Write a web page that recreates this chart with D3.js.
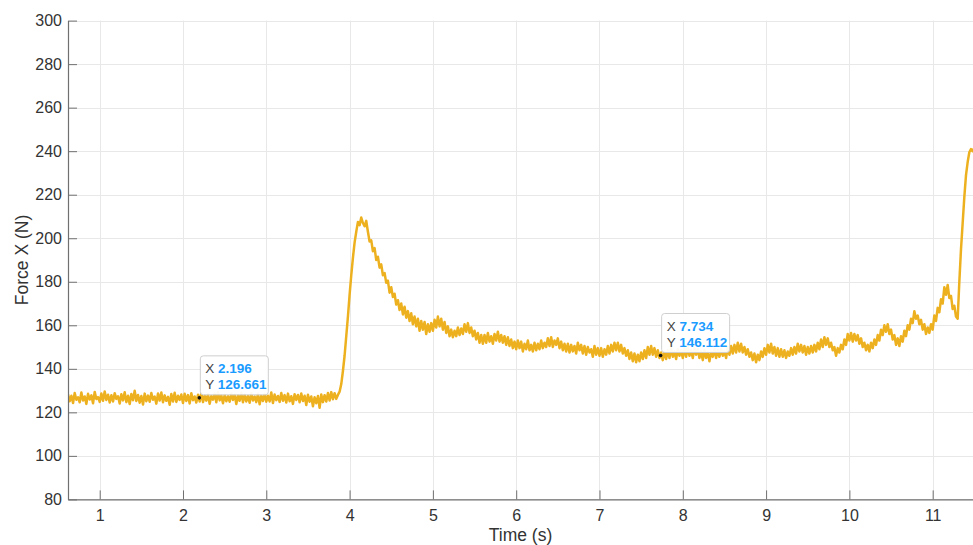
<!DOCTYPE html>
<html>
<head>
<meta charset="utf-8">
<script src="https://cdn.jsdelivr.net/npm/d3@7"></script>
<style>
  html, body { margin: 0; padding: 0; background: #fff; }
  svg { display: block; font-family: "Liberation Sans", Arial, Helvetica, sans-serif; }
</style>
</head>
<body>
<svg id="chart" width="973" height="545"></svg>
<script>
// ---- data ----
const tStart = 0.62;          // first sample time (s)
const tStep = 0.02;           // sample spacing (s)
const forceX = [
  128.2,125.1,127.6,124.3,128.9,125.8,126.9,124.6,129.1,125.4,
  127.3,123.9,128.5,125.9,127.8,124.2,129.4,126.1,127.0,124.8,
  128.7,125.3,129.6,125.7,128.1,124.5,127.9,125.0,128.8,126.2,
  127.4,124.1,128.3,125.5,129.2,124.7,127.6,123.8,128.4,125.6,
  129.9,125.2,128.0,124.4,127.5,123.6,128.6,125.1,127.7,124.9,
  128.9,125.8,127.2,124.0,128.7,125.4,129.1,124.6,127.8,125.3,
  127.1,123.5,128.4,125.0,129.0,124.8,127.6,125.7,128.2,124.3,
  128.5,125.2,127.9,124.1,128.8,125.6,127.3,124.5,128.1,125.0,
  128.9,124.7,127.7,125.4,128.3,123.9,127.5,125.8,128.6,124.6,
  129.3,125.5,127.8,124.2,128.0,125.1,127.4,124.9,128.7,125.7,
  128.1,123.8,127.9,125.3,129.0,124.6,128.2,125.0,127.6,124.4,
  128.8,125.4,127.3,124.7,128.5,123.7,127.8,125.2,128.4,124.9,
  127.6,125.0,129.1,124.3,128.2,125.6,127.5,124.8,128.9,125.3,
  127.9,124.5,128.6,125.1,127.4,123.9,128.3,125.7,128.0,124.6,
  128.7,125.2,127.6,123.4,128.1,124.9,127.3,122.8,126.9,124.2,
  127.5,122.1,128.2,124.7,127.9,125.0,128.9,125.4,129.3,126.0,
  128.8,126.2,128.0,129.5,133,139,146,155,164,174,
  183,191,198,203,207.5,206,209.5,207,205.5,208,
  203,198.5,199,194,195.5,190,191.5,186.5,188,183,
  184,179.5,180.5,175,177.5,173,174.5,169.5,171.5,167,
  170,165,168.5,163.5,166.5,162,165.5,160.5,164,159.5,
  163,157.5,162,158,161.5,156,160.5,157,161,157.5,
  162.5,159,164,159.5,163,158,161.5,156.5,159.5,155,
  158,154.5,157.5,155,159,155.5,158.5,156,160.5,157,
  161,156.5,159,155,157.5,153.5,156.5,152,155.5,151.5,
  155.5,152,156.5,152.5,155,151.5,156,153,157,152.5,
  155.5,152,155,151,154.5,150.5,153.5,149.5,152.5,149,
  153,149.5,152.5,148,151.5,149,153,148.5,151,148,
  152,148.5,151.5,149,153,149.5,152,150,154,150.5,
  154.5,150,153,151,154,149.5,152.5,148.5,151.5,148,
  151.5,147.5,151,148,150.5,147,152,148.5,151,147,
  150.5,146.5,150,147.5,149,145.5,150.5,146.5,149.5,146,
  149.5,145.5,149,146.5,150.5,147,151,148,152,148.5,
  152,148,151,147,149.5,146,148.5,144.5,147.5,143.5,
  147,143,146.5,143.5,147.5,144.5,148.5,145,150,146.5,
  150.5,146.5,149.5,145.5,148.5,145,147.5,144,148,144.5,
  148.5,145,149.5,145.5,148,144.5,149,146,148.5,145,
  149.5,145.5,150,146,148.5,145,149.5,146.5,149,145,
  148,144,148.5,145,147.5,143.5,148,145.5,149,145,
  148.5,145.5,149,146,148,145,150,146.5,150.5,147,
  151,147.5,152,148,151.5,147.5,150,146.5,149,145.5,
  147.5,144,147,143,146.5,144,148,145.5,149.5,146.5,
  151,147.5,151.5,147,150,146,149.5,145.5,149,145.5,
  148.5,145,148,146,149.5,146.5,150,147,151.5,148,
  151,147.5,150.5,146.5,150,147,150.5,147.5,151,148,
  152,149,153.5,150,154.5,151,154,150,152,148.5,
  150,146,149.5,147.5,151,149,153.5,151,156,153,
  156.5,152.5,156,153,155.5,151.5,154,150,152,148.5,
  151,148,152,149.5,153.5,151,155.5,153,158,155.5,
  160,157,160.5,156,158,153.5,155.5,151,154,150.5,
  155,152.5,157.5,155,160,158,163,161,166.5,163,
  164.5,160.5,162.5,158,160.5,156,159,156.5,160.5,158,
  164.5,162,168,166,172,170,177.5,174,178.5,172.5,
  173.5,167.5,169,164,163,180,195,207,219,229,
  235,239.5,241,240,241.5
];
const xTicks = [1,2,3,4,5,6,7,8,9,10,11];
const yTicks = [80,100,120,140,160,180,200,220,240,260,280,300];
const xDomain = [0.6195, 11.484];
const yDomain = [80, 300];
const tipX = [2.196, 7.734];
const tipY = [126.661, 146.112];

// ---- layout ----
const svg = d3.select("#chart");
const L = 68, R = 973, T = 20.6, B = 499.4;
const x = d3.scaleLinear().domain(xDomain).range([L, R]);
const y = d3.scaleLinear().domain(yDomain).range([B, T]);

const times = d3.range(forceX.length).map(i => tStart + tStep * i);
const data = times.map((t, i) => [t, forceX[i]]);

// grid
const grid = svg.append("g").attr("stroke", "#e8e8e8").attr("stroke-width", 1);
grid.selectAll("line.gx").data(xTicks).join("line")
  .attr("x1", d => Math.round(x(d)) + 0.5).attr("x2", d => Math.round(x(d)) + 0.5)
  .attr("y1", T).attr("y2", B);
grid.selectAll("line.gy").data(yTicks).join("line")
  .attr("y1", d => Math.round(y(d)) + 0.5).attr("y2", d => Math.round(y(d)) + 0.5)
  .attr("x1", L).attr("x2", R);

// clip
svg.append("clipPath").attr("id", "clip").append("rect")
  .attr("x", L).attr("y", T - 2).attr("width", R - L).attr("height", B - T + 2);

// line
const line = d3.line().x(d => x(d[0])).y(d => y(d[1]));
svg.append("path").datum(data)
  .attr("clip-path", "url(#clip)")
  .attr("fill", "none")
  .attr("stroke", "#EDB120")
  .attr("stroke-width", 2.5)
  .attr("stroke-linejoin", "round")
  .attr("d", line);

// axes (MATLAB style: inward ticks)
const axColor = "#707070";
const xAxis = d3.axisBottom(x).tickValues(xTicks).tickSizeInner(-9).tickSizeOuter(0).tickPadding(18).tickFormat(d3.format("d"));
const gx = svg.append("g").attr("transform", `translate(0,${B})`).call(xAxis);
const yAxis = d3.axisLeft(y).tickValues(yTicks).tickSizeInner(-9).tickSizeOuter(0).tickPadding(6).tickFormat(d3.format("d"));
const gy = svg.append("g").attr("transform", `translate(${L},0)`).call(yAxis);
[gx, gy].forEach(g => {
  g.select(".domain").attr("stroke", axColor).attr("stroke-width", 1.2);
  g.selectAll(".tick line").attr("stroke", axColor).attr("stroke-width", 1);
  g.selectAll(".tick text").attr("fill", "#333").attr("font-size", 16)
    .attr("font-family", "'Liberation Sans', Arial, sans-serif");
});
gx.selectAll(".tick text").attr("dy", "0.2em");

// axis titles
svg.append("text").attr("x", (L + R) / 2).attr("y", 541)
  .attr("text-anchor", "middle").attr("font-size", 17.5).attr("fill", "#333")
  .text("Time (s)");
svg.append("text").attr("transform", `translate(28,${(T + B) / 2}) rotate(-90)`)
  .attr("text-anchor", "middle").attr("font-size", 17.5).attr("fill", "#333")
  .text("Force X (N)");

// data tips
const tips = svg.append("g");
tipX.forEach((tx, i) => {
  const px = x(tx), py = y(tipY[i]);
  const g = tips.append("g");
  g.append("rect").attr("x", px + 1).attr("y", py - 42).attr("width", 68).attr("height", 39)
    .attr("rx", 3).attr("fill", "rgba(255,255,255,0.93)").attr("stroke", "#cfcfcf").attr("stroke-width", 1);
  const t1 = g.append("text").attr("x", px + 6).attr("y", py - 24.5).attr("font-size", 13.5);
  t1.append("tspan").attr("fill", "#444").text("X ");
  t1.append("tspan").attr("fill", "#1a9bff").attr("font-weight", "bold").text(tx.toFixed(3));
  const t2 = g.append("text").attr("x", px + 6).attr("y", py - 8.5).attr("font-size", 13.5);
  t2.append("tspan").attr("fill", "#444").text("Y ");
  t2.append("tspan").attr("fill", "#1a9bff").attr("font-weight", "bold").text(tipY[i].toFixed(3));
  g.append("circle").attr("cx", px).attr("cy", py).attr("r", 1.8).attr("fill", "#111");
});
</script>
</body>
</html>
